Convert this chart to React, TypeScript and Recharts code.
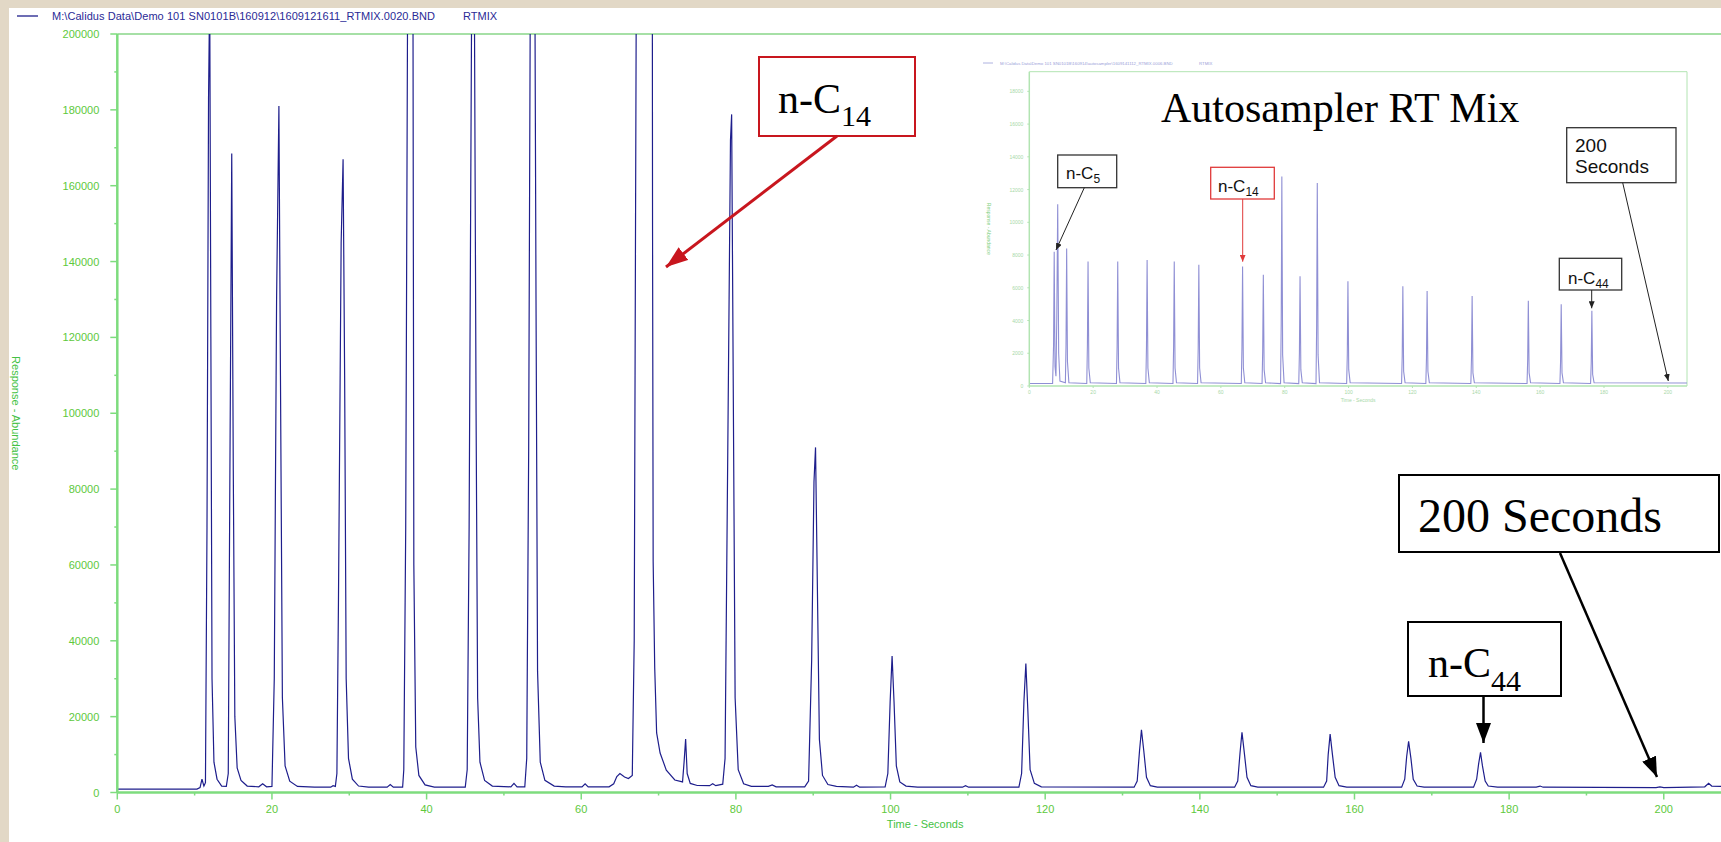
import { Label, Line, LineChart, ReferenceLine, XAxis, YAxis } from "recharts";

type Pt = [number, number];

// main RTMIX trace, seconds vs response
const traceEarly: Pt[] = [
  [0, 900], [10.3, 900], [10.7, 1300], [10.95, 3500], [11.2, 1700], [11.4, 2600],
  [11.6, 70000], [11.8, 183000], [11.95, 212000], [12.1, 120000], [12.25, 30000],
  [12.5, 8000], [12.9, 3500], [13.5, 1700], [14.1, 1600], [14.35, 5000],
  [14.55, 80000], [14.8, 168500], [15.0, 85000], [15.2, 20000], [15.5, 6500],
  [16.0, 3200], [16.8, 1700], [18.3, 1500], [18.8, 2300], [19.3, 1500], [20.0, 1600],
  [20.3, 30000], [20.6, 130000], [20.9, 181000], [21.1, 110000], [21.35, 25000],
  [21.7, 7000], [22.3, 3000], [23.3, 1600]
];

const traceMid: Pt[] = [
  [25.5, 1400], [27.6, 1400], [27.9, 1800], [28.2, 1600], [28.4, 5000], [28.6, 50000],
  [28.95, 145000], [29.2, 167000], [29.4, 110000], [29.6, 30000], [29.9, 9000],
  [30.4, 3500], [31.2, 1700], [32.5, 1400], [34.9, 1400], [35.3, 2100], [35.7, 1400],
  [36.9, 1400], [37.05, 6000], [37.3, 70000], [37.65, 270000], [38.0, 380000],
  [38.2, 260000], [38.35, 60000], [38.6, 12000], [39.0, 4500], [39.8, 2000],
  [41.0, 1400], [45.0, 1400], [45.25, 6000], [45.5, 70000], [45.9, 240000],
  [46.1, 250000], [46.4, 100000], [46.6, 25000], [46.9, 8000], [47.5, 3200],
  [48.5, 1700], [50.9, 1500], [51.3, 2400], [51.7, 1500], [52.7, 1500], [52.95, 9000],
  [53.2, 90000], [53.55, 290000], [53.85, 300000], [54.15, 130000], [54.35, 32000],
  [54.7, 8000], [55.3, 3200], [56.5, 1700], [58.0, 1500], [60.1, 1500], [60.5, 2300],
  [60.9, 1500]
];

const traceC14: Pt[] = [
  [63.6, 1500], [64.2, 2300], [64.6, 4200], [65.0, 5000], [65.6, 4100], [66.1, 3700],
  [66.6, 4500], [66.85, 40000], [67.1, 200000], [67.3, 420000], [68.2, 600000],
  [69.1, 420000], [69.22, 150000], [69.3, 61000], [69.5, 33000], [69.75, 15700],
  [70.2, 10400], [71.0, 5900], [72.1, 3300], [73.1, 2800], [73.3, 8000], [73.5, 14100],
  [73.7, 5000], [74.1, 2400], [75.0, 1850], [76.6, 1800], [77.0, 2300], [77.4, 1800],
  [78.3, 2200], [78.6, 9000], [78.95, 90000], [79.3, 172000], [79.45, 178800],
  [79.65, 110000], [79.9, 25000], [80.3, 6000], [81.0, 2300], [82.0, 1600],
  [84.2, 1600], [84.7, 2000], [85.2, 1500], [88.9, 1500], [89.4, 3000], [89.8, 35000],
  [90.1, 82000], [90.3, 91000], [90.5, 60000], [90.8, 14000], [91.2, 4500],
  [91.9, 2100], [93.0, 1600]
];

const traceLate: Pt[] = [
  [95.2, 1400], [95.6, 1900], [96.0, 1400], [99.3, 1500], [99.65, 5000],
  [99.95, 24000], [100.2, 36000], [100.45, 24000], [100.75, 7000], [101.2, 2800],
  [102.0, 1700], [103.5, 1400], [109.3, 1400], [109.7, 1800], [110.1, 1400],
  [116.6, 1400], [116.95, 5000], [117.25, 24000], [117.5, 34000], [117.75, 22000],
  [118.05, 6000], [118.6, 2400], [119.5, 1500], [131.5, 1400], [131.9, 3000],
  [132.2, 11000], [132.45, 16500], [132.75, 11000], [133.1, 4000], [133.6, 1800],
  [134.5, 1400], [144.5, 1400], [144.9, 3000], [145.2, 10500], [145.45, 15900],
  [145.75, 10500], [146.1, 4000], [146.6, 1800], [147.5, 1400], [156.0, 1400],
  [156.4, 3000], [156.6, 10000], [156.85, 15400], [157.15, 10000], [157.5, 4000],
  [158.0, 1800], [159.0, 1400], [166.1, 1400], [166.5, 3500], [166.75, 9500],
  [167.0, 13500], [167.3, 9000], [167.6, 3500], [168.1, 1700], [169.0, 1400],
  [175.4, 1400], [175.8, 3500], [176.05, 7500], [176.3, 10600], [176.55, 7000],
  [176.9, 3000], [177.3, 1700], [178.5, 1400], [183.5, 1400], [184.0, 1700],
  [184.4, 1400], [199.0, 1300], [199.5, 1500], [200.0, 1300], [205.3, 1500],
  [205.8, 2400], [206.2, 1700], [207.4, 1600]
];

const xMajorTicks = [0, 20, 40, 60, 80, 100, 120, 140, 160, 180, 200];
const xMinorTicks = [10, 30, 50, 70, 90, 110, 130, 150, 170, 190];
const yMajorTicks = [0, 20000, 40000, 60000, 80000, 100000, 120000, 140000, 160000, 180000, 200000];
const yMinorTicks = [10000, 30000, 50000, 70000, 90000, 110000, 130000, 150000, 170000, 190000];

// the pasted "Autosampler RT Mix" screenshot in the corner
const insetTrace: Pt[] = [
  [0, 150], [7.3, 150], [7.6, 2500], [7.8, 8200], [8.05, 1200], [8.35, 600],
  [8.6, 4000], [8.9, 11100], [9.2, 2000], [9.6, 300], [11.3, 200], [11.5, 2500],
  [11.7, 8400], [11.95, 1500], [12.4, 200], [18.0, 150], [18.2, 2500], [18.4, 7600],
  [18.65, 1100], [19.1, 200], [27.3, 150], [27.5, 2400], [27.7, 7600], [27.95, 1100],
  [28.4, 200], [36.5, 150], [36.7, 2400], [36.9, 7700], [37.15, 1100], [37.6, 200],
  [45.0, 150], [45.2, 2400], [45.4, 7600], [45.65, 1100], [46.1, 200], [52.7, 150],
  [52.9, 2300], [53.1, 7400], [53.35, 1100], [53.8, 200], [66.4, 150], [66.6, 2300],
  [66.8, 7300], [67.05, 1100], [67.5, 200], [72.9, 150], [73.1, 2100], [73.3, 6800],
  [73.55, 1000], [74.0, 200], [78.7, 150], [78.9, 3800], [79.1, 12800], [79.35, 1900],
  [79.8, 200], [84.4, 150], [84.6, 2000], [84.8, 6700], [85.05, 1000], [85.5, 200],
  [89.8, 150], [90.0, 3700], [90.2, 12400], [90.45, 1900], [90.9, 200], [99.4, 150],
  [99.6, 1900], [99.8, 6400], [100.05, 1000], [100.5, 200], [116.6, 150], [116.8, 1800],
  [117.0, 6100], [117.25, 900], [117.7, 200], [124.2, 150], [124.4, 1700], [124.6, 5800],
  [124.85, 900], [125.3, 200], [138.3, 150], [138.5, 1700], [138.7, 5500], [138.95, 800],
  [139.4, 200], [155.9, 150], [156.1, 1600], [156.3, 5200], [156.55, 800], [157.0, 200],
  [166.2, 150], [166.4, 1500], [166.6, 5000], [166.85, 800], [167.3, 200], [175.8, 150],
  [176.0, 1400], [176.2, 4600], [176.45, 700], [176.9, 200], [206, 180]
];

const insetXTicks = [0, 20, 40, 60, 80, 100, 120, 140, 160, 180, 200];
const insetYTicks = [0, 2000, 4000, 6000, 8000, 10000, 12000, 14000, 16000, 18000];

const mainData = [...traceEarly, ...traceMid, ...traceC14, ...traceLate].map(([t, v]) => ({ t, v }));
const insetData = insetTrace.map(([t, v]) => ({ t, v }));

const SANS = "'Liberation Sans', Arial, sans-serif";
const SERIF = "'Liberation Serif', 'Times New Roman', serif";
const AXIS = "#7edc7e";
const TICK_TEXT = "#5ec93c";
const TRACE = "#1e1e8c";
const INSET_AXIS = "#b2e4b2";
const INSET_TEXT = "#a8d8a8";

function MainYTick(props: any) {
  const { x, y, payload } = props;
  const major = yMajorTicks.includes(payload.value);
  return (
    <g>
      <line x1={x - (major ? 7 : 3)} x2={x} y1={y} y2={y} stroke={AXIS} strokeWidth={1.5} />
      {major && (
        <text x={x - 18} y={y + 4} textAnchor="end" fontSize={11} fontFamily={SANS} fill={TICK_TEXT}>
          {payload.value}
        </text>
      )}
    </g>
  );
}

function MainXTick(props: any) {
  const { x, y, payload } = props;
  const major = xMajorTicks.includes(payload.value);
  return (
    <g>
      <line x1={x} x2={x} y1={y} y2={y + (major ? 7 : 3)} stroke={AXIS} strokeWidth={1.5} />
      {major && (
        <text x={x} y={y + 20} textAnchor="middle" fontSize={11} fontFamily={SANS} fill={TICK_TEXT}>
          {payload.value}
        </text>
      )}
    </g>
  );
}

function InsetYTick(props: any) {
  const { x, y, payload } = props;
  return (
    <g>
      <line x1={x - 2} x2={x} y1={y} y2={y} stroke={INSET_AXIS} />
      <text x={x - 6} y={y + 2} textAnchor="end" fontSize={5} fontFamily={SANS} fill={INSET_TEXT}>
        {payload.value}
      </text>
    </g>
  );
}

function InsetXTick(props: any) {
  const { x, y, payload } = props;
  return (
    <g>
      <line x1={x} x2={x} y1={y} y2={y + 2} stroke={INSET_AXIS} />
      <text x={x} y={y + 8} textAnchor="middle" fontSize={5} fontFamily={SANS} fill={INSET_TEXT}>
        {payload.value}
      </text>
    </g>
  );
}

function MainChart() {
  return (
    <div style={{ position: "absolute", left: 0, top: 0 }}>
      <LineChart width={1721} height={842} data={mainData} margin={{ top: 34, right: 0, bottom: 19.5, left: 17.3 }}>
        <XAxis
          dataKey="t"
          type="number"
          domain={[0, 207.4]}
          allowDataOverflow
          ticks={[...xMajorTicks, ...xMinorTicks].sort((a, b) => a - b)}
          interval={0}
          height={30}
          tickSize={0}
          tickMargin={0}
          tickLine={false}
          axisLine={{ stroke: AXIS, strokeWidth: 2.5 }}
          tick={(p: any) => <MainXTick {...p} />}
        >
          <Label value="Time - Seconds" position="center" dx={6} dy={17} fontSize={11} fontFamily={SANS} fill="#44c244" />
        </XAxis>
        <YAxis
          type="number"
          domain={[0, 200000]}
          allowDataOverflow
          ticks={[...yMajorTicks, ...yMinorTicks].sort((a, b) => a - b)}
          interval={0}
          width={100}
          tickSize={0}
          tickMargin={0}
          tickLine={false}
          axisLine={{ stroke: AXIS, strokeWidth: 2.5 }}
          tick={(p: any) => <MainYTick {...p} />}
        >
          <Label value="Response - Abundance" position="center" angle={90} dx={-51} fontSize={11} fontFamily={SANS} fill="#44c244" />
        </YAxis>
        <ReferenceLine y={200000} stroke="#4fc24f" strokeWidth={1.2} />
        <Line dataKey="v" type="linear" stroke={TRACE} strokeWidth={1.2} dot={false} isAnimationActive={false} />
      </LineChart>
    </div>
  );
}

function InsetChart() {
  return (
    <div style={{ position: "absolute", left: 971, top: 55 }}>
      <LineChart width={730} height={350} data={insetData} margin={{ top: 16.7, right: 14, bottom: 7, left: 18.3 }}>
        <XAxis
          dataKey="t"
          type="number"
          domain={[0, 206]}
          allowDataOverflow
          ticks={insetXTicks}
          interval={0}
          height={12}
          tickSize={0}
          tickMargin={0}
          tickLine={false}
          axisLine={{ stroke: INSET_AXIS, strokeWidth: 1.5 }}
          tick={(p: any) => <InsetXTick {...p} />}
        >
          <Label value="Time - Seconds" position="center" dy={8} fontSize={5} fontFamily={SANS} fill={INSET_TEXT} />
        </XAxis>
        <YAxis
          type="number"
          domain={[0, 19200]}
          allowDataOverflow
          ticks={insetYTicks}
          interval={0}
          width={40}
          tickSize={0}
          tickMargin={0}
          tickLine={false}
          axisLine={{ stroke: INSET_AXIS, strokeWidth: 1.5 }}
          tick={(p: any) => <InsetYTick {...p} />}
        >
          <Label value="Response - Abundance" position="center" angle={90} dx={-21} fontSize={5} fontFamily={SANS} fill="#7fd07f" />
        </YAxis>
        <ReferenceLine y={19200} stroke={INSET_AXIS} />
        <ReferenceLine x={206} stroke={INSET_AXIS} />
        <Line dataKey="v" type="linear" stroke="#8f8fd4" strokeWidth={1.1} dot={false} isAnimationActive={false} />
      </LineChart>
    </div>
  );
}

// slide call-outs drawn over the screenshot
function Callouts() {
  return (
    <svg width={1721} height={842} style={{ position: "absolute", left: 0, top: 0, pointerEvents: "none" }}>
      <defs>
        <marker id="headRed" markerUnits="userSpaceOnUse" markerWidth={22} markerHeight={16} refX={22} refY={8} orient="auto">
          <path d="M0,0 L22,8 L0,16 z" fill="#c8161e" />
        </marker>
        <marker id="headBlack" markerUnits="userSpaceOnUse" markerWidth={20} markerHeight={15} refX={20} refY={7.5} orient="auto">
          <path d="M0,0 L20,7.5 L0,15 z" fill="#000" />
        </marker>
        <marker id="headSmall" markerUnits="userSpaceOnUse" markerWidth={7} markerHeight={6} refX={7} refY={3} orient="auto">
          <path d="M0,0 L7,3 L0,6 z" fill="#222" />
        </marker>
        <marker id="headSmallRed" markerUnits="userSpaceOnUse" markerWidth={7} markerHeight={6} refX={7} refY={3} orient="auto">
          <path d="M0,0 L7,3 L0,6 z" fill="#e03a3a" />
        </marker>
      </defs>

      {/* legend of the main trace */}
      <line x1={17} x2={38} y1={16} y2={16} stroke={TRACE} strokeWidth={1.3} />
      <text x={52} y={20} fontSize={11} fontFamily={SANS} fill="#2a2a96" textLength={383} lengthAdjust="spacing">
        {"M:\\Calidus Data\\Demo 101 SN0101B\\160912\\1609121611_RTMIX.0020.BND"}
      </text>
      <text x={463} y={20} fontSize={11} fontFamily={SANS} fill="#2a2a96">RTMIX</text>

      {/* inset legend and title */}
      <line x1={983} x2={993} y1={63} y2={63} stroke="#9aa0d8" strokeWidth={0.8} />
      <text x={1000} y={65} fontSize={4.3} fontFamily={SANS} fill="#9aa0d8">
        {"M:\\Calidus Data\\Demo 101 SN0101B\\160914\\autosampler\\1609141112_RTMIX.0006.BND"}
      </text>
      <text x={1199} y={65} fontSize={4.3} fontFamily={SANS} fill="#9aa0d8">RTMIX</text>
      <text x={1161} y={121.5} fontSize={42} fontFamily={SERIF} fill="#000">Autosampler RT Mix</text>

      {/* inset call-outs */}
      <rect x={1057.7} y={155} width={59} height={32.7} fill="#fff" stroke="#333" strokeWidth={1.3} />
      <text x={1066} y={179} fontSize={17} fontFamily={SANS} fill="#111">
        n-C<tspan fontSize={12} dy={4}>5</tspan>
      </text>
      <line x1={1084.3} y1={187.7} x2={1056} y2={250} stroke="#222" strokeWidth={1} markerEnd="url(#headSmall)" />

      <rect x={1210.7} y={167.3} width={63.6} height={31.7} fill="#fff" stroke="#e03a3a" strokeWidth={1.3} />
      <text x={1218} y={192} fontSize={17} fontFamily={SANS} fill="#111">
        n-C<tspan fontSize={12} dy={4}>14</tspan>
      </text>
      <line x1={1242.7} y1={199} x2={1242.7} y2={261.7} stroke="#e03a3a" strokeWidth={1} markerEnd="url(#headSmallRed)" />

      <rect x={1566.7} y={127.7} width={109.3} height={55} fill="#fff" stroke="#333" strokeWidth={1.3} />
      <text x={1575} y={151.7} fontSize={19} fontFamily={SANS} fill="#111">200</text>
      <text x={1575} y={173} fontSize={19} fontFamily={SANS} fill="#111">Seconds</text>
      <line x1={1622.7} y1={182.7} x2={1668.3} y2={381} stroke="#222" strokeWidth={1} markerEnd="url(#headSmall)" />

      <rect x={1559.3} y={258.3} width={62.4} height={31.7} fill="#fff" stroke="#333" strokeWidth={1.3} />
      <text x={1568} y={284} fontSize={17} fontFamily={SANS} fill="#111">
        n-C<tspan fontSize={12} dy={4}>44</tspan>
      </text>
      <line x1={1591.7} y1={290} x2={1591.7} y2={308.3} stroke="#222" strokeWidth={1} markerEnd="url(#headSmall)" />

      {/* main call-outs */}
      <rect x={759} y={57} width={156} height={79} fill="#fff" stroke="#c8161e" strokeWidth={2} />
      <text x={778} y={113} fontSize={42} fontFamily={SERIF} fill="#000">
        n-C<tspan fontSize={30} dy={13}>14</tspan>
      </text>
      <line x1={837} y1={136} x2={666} y2={267} stroke="#c8161e" strokeWidth={3} markerEnd="url(#headRed)" />

      <rect x={1399} y={475} width={320} height={77} fill="#fff" stroke="#000" strokeWidth={2} />
      <text x={1418} y={531.5} fontSize={48} fontFamily={SERIF} fill="#000">200 Seconds</text>
      <line x1={1560} y1={553} x2={1657} y2={777} stroke="#000" strokeWidth={2.5} markerEnd="url(#headBlack)" />

      <rect x={1408} y={622} width={153} height={74} fill="#fff" stroke="#000" strokeWidth={2} />
      <text x={1428} y={676.5} fontSize={42} fontFamily={SERIF} fill="#000">
        n-C<tspan fontSize={30} dy={14}>44</tspan>
      </text>
      <line x1={1483.5} y1={696} x2={1483.5} y2={743} stroke="#000" strokeWidth={2.5} markerEnd="url(#headBlack)" />
    </svg>
  );
}

export default function App() {
  return (
    <div style={{ position: "absolute", left: 0, top: 0, width: 1721, height: 842, background: "#e2d8c6", overflow: "hidden" }}>
      <div style={{ position: "absolute", left: 9, top: 8, right: 0, bottom: 0, background: "#fff" }} />
      <MainChart />
      <InsetChart />
      <Callouts />
    </div>
  );
}
